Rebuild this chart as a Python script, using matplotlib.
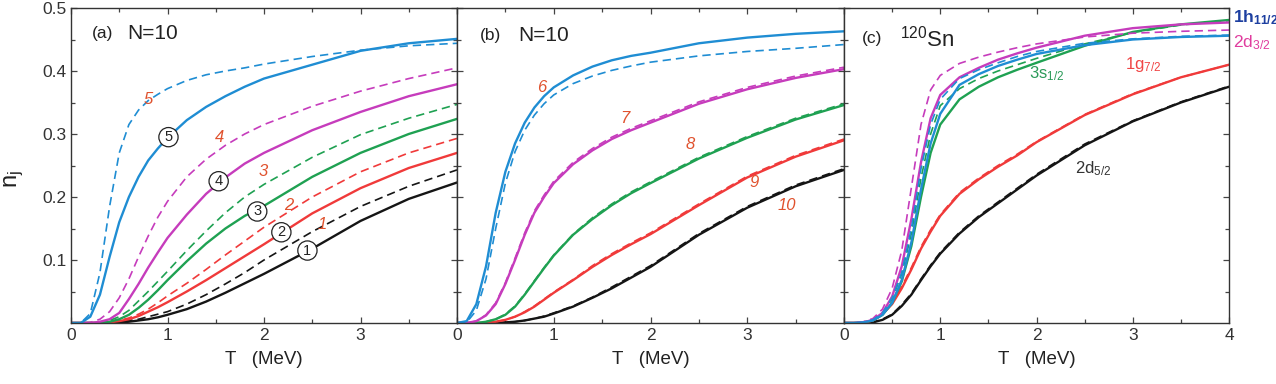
import matplotlib
matplotlib.use("Agg")
import matplotlib.pyplot as plt
from matplotlib.ticker import MultipleLocator, FixedLocator

plt.rcParams['font.family'] = ['Liberation Sans', 'DejaVu Sans']
plt.rcParams['mathtext.fontset'] = 'custom'
plt.rcParams['mathtext.rm'] = 'Liberation Sans'
plt.rcParams['mathtext.it'] = 'Liberation Sans:italic'
plt.rcParams['mathtext.bf'] = 'Liberation Sans:bold'

# ---------------- data ----------------
T = [0, 0.1, 0.2, 0.3, 0.4, 0.5, 0.6, 0.7, 0.8, 0.9, 1.0, 1.2, 1.4, 1.6, 1.8, 2.0, 2.5, 3.0, 3.5, 4.0]

# panel (a)  N=10, levels 1..5 (solid and dashed)
a5_solid = [0, 0.0, 0.010, 0.045, 0.105, 0.160, 0.200, 0.232, 0.258, 0.277, 0.294, 0.322, 0.343, 0.360, 0.375, 0.388, 0.410, 0.432, 0.444, 0.451]
a5_dash  = [0, 0.0, 0.015, 0.080, 0.185, 0.270, 0.315, 0.338, 0.353, 0.363, 0.372, 0.385, 0.394, 0.400, 0.405, 0.411, 0.423, 0.433, 0.440, 0.444]
a4_solid = [0, 0.0, 0.000, 0.002, 0.006, 0.016, 0.038, 0.062, 0.088, 0.112, 0.135, 0.172, 0.205, 0.231, 0.253, 0.270, 0.306, 0.335, 0.360, 0.379]
a4_dash  = [0, 0.0, 0.001, 0.006, 0.018, 0.040, 0.070, 0.105, 0.138, 0.168, 0.193, 0.232, 0.260, 0.282, 0.300, 0.315, 0.344, 0.368, 0.388, 0.405]
a3_solid = [0, 0.0, 0.000, 0.000, 0.002, 0.006, 0.013, 0.024, 0.037, 0.052, 0.068, 0.098, 0.126, 0.150, 0.170, 0.186, 0.232, 0.270, 0.300, 0.324]
a3_dash  = [0, 0.0, 0.000, 0.001, 0.004, 0.010, 0.020, 0.035, 0.050, 0.066, 0.082, 0.115, 0.146, 0.175, 0.200, 0.220, 0.263, 0.299, 0.325, 0.347]
a2_solid = [0, 0.0, 0.000, 0.000, 0.001, 0.003, 0.006, 0.011, 0.018, 0.025, 0.033, 0.050, 0.068, 0.087, 0.106, 0.125, 0.174, 0.214, 0.246, 0.270]
a2_dash  = [0, 0.0, 0.000, 0.000, 0.001, 0.004, 0.008, 0.014, 0.022, 0.032, 0.043, 0.063, 0.085, 0.108, 0.130, 0.152, 0.200, 0.240, 0.270, 0.293]
a1_solid = [0, 0.0, 0.000, 0.000, 0.000, 0.001, 0.002, 0.004, 0.006, 0.009, 0.013, 0.022, 0.034, 0.048, 0.063, 0.078, 0.118, 0.162, 0.197, 0.223]
a1_dash  = [0, 0.0, 0.000, 0.000, 0.001, 0.002, 0.004, 0.006, 0.010, 0.014, 0.018, 0.030, 0.045, 0.062, 0.080, 0.100, 0.145, 0.185, 0.217, 0.243]

# panel (b)  N=10, levels 6..10
b6_solid = [0, 0.003, 0.030, 0.090, 0.175, 0.240, 0.285, 0.318, 0.342, 0.360, 0.374, 0.393, 0.407, 0.417, 0.424, 0.429, 0.444, 0.453, 0.459, 0.463]
b6_dash  = [0, 0.001, 0.020, 0.070, 0.150, 0.222, 0.272, 0.306, 0.330, 0.348, 0.362, 0.380, 0.392, 0.401, 0.408, 0.414, 0.424, 0.431, 0.436, 0.442]
b7_solid = [0, 0.000, 0.003, 0.012, 0.030, 0.062, 0.100, 0.140, 0.175, 0.200, 0.222, 0.252, 0.274, 0.292, 0.306, 0.318, 0.348, 0.371, 0.389, 0.403]
b7_dash  = [0, 0.000, 0.003, 0.013, 0.032, 0.064, 0.103, 0.143, 0.178, 0.203, 0.225, 0.255, 0.277, 0.295, 0.309, 0.321, 0.351, 0.374, 0.392, 0.406]
b8_solid = [0, 0.000, 0.000, 0.002, 0.006, 0.013, 0.026, 0.045, 0.066, 0.087, 0.107, 0.140, 0.165, 0.187, 0.206, 0.222, 0.261, 0.294, 0.323, 0.346]
b8_dash  = [0, 0.000, 0.000, 0.002, 0.006, 0.014, 0.027, 0.046, 0.067, 0.088, 0.108, 0.141, 0.167, 0.189, 0.208, 0.224, 0.263, 0.296, 0.325, 0.348]
b9_solid = [0, 0.000, 0.000, 0.000, 0.002, 0.005, 0.010, 0.017, 0.026, 0.037, 0.048, 0.068, 0.089, 0.108, 0.125, 0.141, 0.187, 0.231, 0.264, 0.290]
b9_dash  = [0, 0.000, 0.000, 0.000, 0.002, 0.005, 0.010, 0.018, 0.027, 0.038, 0.049, 0.069, 0.091, 0.110, 0.127, 0.143, 0.189, 0.233, 0.266, 0.292]
b10_solid = [0, 0.000, 0.000, 0.000, 0.000, 0.001, 0.002, 0.004, 0.007, 0.010, 0.015, 0.026, 0.040, 0.055, 0.072, 0.089, 0.140, 0.183, 0.217, 0.243]
b10_dash  = [0, 0.000, 0.000, 0.000, 0.000, 0.001, 0.002, 0.004, 0.007, 0.011, 0.016, 0.027, 0.041, 0.057, 0.074, 0.091, 0.142, 0.185, 0.219, 0.245]

# panel (c)  120Sn orbitals
c_1h_solid = [0, 0, 0.001, 0.004, 0.013, 0.032, 0.068, 0.128, 0.212, 0.285, 0.332, 0.378, 0.395, 0.408, 0.418, 0.427, 0.441, 0.450, 0.454, 0.456]
c_1h_dash  = [0, 0, 0.001, 0.005, 0.016, 0.040, 0.080, 0.150, 0.245, 0.315, 0.355, 0.388, 0.402, 0.413, 0.423, 0.431, 0.444, 0.451, 0.455, 0.457]
c_2d3_solid = [0, 0, 0.001, 0.005, 0.016, 0.042, 0.090, 0.165, 0.255, 0.325, 0.362, 0.390, 0.405, 0.418, 0.428, 0.437, 0.456, 0.468, 0.474, 0.477]
c_2d3_dash  = [0, 0, 0.002, 0.007, 0.022, 0.055, 0.115, 0.215, 0.315, 0.370, 0.393, 0.412, 0.422, 0.430, 0.437, 0.443, 0.454, 0.460, 0.463, 0.465]
c_3s_solid = [0, 0, 0.001, 0.004, 0.013, 0.032, 0.066, 0.122, 0.200, 0.270, 0.315, 0.355, 0.375, 0.390, 0.402, 0.413, 0.440, 0.462, 0.474, 0.481]
c_3s_dash  = [0, 0, 0.001, 0.005, 0.016, 0.038, 0.078, 0.142, 0.230, 0.300, 0.345, 0.372, 0.388, 0.400, 0.410, 0.420, 0.443, 0.461, 0.473, 0.480]
c_1g_solid = [0, 0, 0.000, 0.004, 0.014, 0.030, 0.055, 0.085, 0.118, 0.145, 0.170, 0.205, 0.228, 0.248, 0.266, 0.287, 0.330, 0.363, 0.390, 0.410]
c_1g_dash  = [0, 0, 0.000, 0.004, 0.015, 0.032, 0.058, 0.088, 0.121, 0.148, 0.172, 0.207, 0.230, 0.250, 0.268, 0.288, 0.331, 0.364, 0.390, 0.410]
c_2d5_solid = [0, 0, 0.000, 0.001, 0.005, 0.013, 0.027, 0.045, 0.068, 0.090, 0.110, 0.142, 0.168, 0.190, 0.212, 0.234, 0.282, 0.320, 0.350, 0.375]
c_2d5_dash  = [0, 0, 0.000, 0.001, 0.006, 0.014, 0.029, 0.047, 0.070, 0.092, 0.112, 0.144, 0.170, 0.192, 0.214, 0.236, 0.284, 0.321, 0.351, 0.376]

# labels
a_labels = ['5', '4', '3', '2', '1']
b_labels = ['6', '7', '8', '9', '10']
c_orbitals = ['1h$_{11/2}$', '2d$_{3/2}$', '3s$_{1/2}$', '1g$_{7/2}$', '2d$_{5/2}$']
x_ticklabels_ab = ['0', '1', '2', '3']
x_ticklabels_c = ['0', '1', '2', '3', '4']
y_ticklabels = ['0.1', '0.2', '0.3', '0.4', '0.5']

# ---------------- style ----------------
BLUE = '#1f8dd3'
MAG = '#c63cbc'
GREEN = '#1fa152'
RED = '#f03a3a'
BLACK = '#151515'
LAB = '#e0522e'
DASH = (0, (5, 3))
LWS = 1.7
LWD = 1.2

fig = plt.figure(figsize=(12.76, 3.84), dpi=100)
W, H = 1276, 384
def pos(l, r):
    return [l / W, 1 - 323 / H, (r - l) / W, (323 - 8) / H]

axa = fig.add_axes(pos(71, 457))
axb = fig.add_axes(pos(457, 844))
axc = fig.add_axes(pos(844, 1229))

for ax in (axa, axb, axc):
    ax.set_xlim(0, 4)
    ax.set_ylim(0, 0.5)
    ax.xaxis.set_major_locator(FixedLocator([0, 1, 2, 3, 4]))
    ax.xaxis.set_minor_locator(MultipleLocator(0.5))
    ax.yaxis.set_major_locator(FixedLocator([0.1, 0.2, 0.3, 0.4, 0.5]))
    ax.yaxis.set_minor_locator(FixedLocator([0.05, 0.15, 0.25, 0.35, 0.45]))
    ax.tick_params(which='both', direction='in', top=True, right=True, colors='#444444',
                   labelcolor='#333333', labelsize=12.5, width=0.9)
    ax.tick_params(which='major', length=4.5)
    ax.tick_params(which='minor', length=3)
    for s in ax.spines.values():
        s.set_color('#333333')
        s.set_linewidth(1.0)
    ax.set_xlabel('T   (MeV)', fontsize=13.5, color='#222222', labelpad=6)

axa.set_xticks([0, 1, 2, 3, 4])
axa.set_xticklabels(x_ticklabels_ab + [''])
axb.set_xticks([0, 1, 2, 3, 4])
axb.set_xticklabels(x_ticklabels_ab + [''])
axc.set_xticks([0, 1, 2, 3, 4])
axc.set_xticklabels(x_ticklabels_c)
axa.set_yticks([0.1, 0.2, 0.3, 0.4, 0.5])
axa.set_yticklabels(y_ticklabels)
axb.set_yticklabels([])
axc.set_yticklabels([])

# panel a
pairs_a = [(a1_solid, a1_dash, BLACK), (a2_solid, a2_dash, RED), (a3_solid, a3_dash, GREEN),
           (a4_solid, a4_dash, MAG), (a5_solid, a5_dash, BLUE)]
for s, d, c in pairs_a:
    axa.plot(T, d, color=c, lw=LWD, linestyle=DASH)
    axa.plot(T, s, color=c, lw=LWS)

# panel b
pairs_b = [(b10_solid, b10_dash, BLACK), (b9_solid, b9_dash, RED), (b8_solid, b8_dash, GREEN),
           (b7_solid, b7_dash, MAG), (b6_solid, b6_dash, BLUE)]
for s, d, c in pairs_b:
    axb.plot(T, s, color=c, lw=LWS)
    axb.plot(T, d, color=c, lw=LWD, linestyle=DASH)

# panel c
pairs_c = [(c_2d5_solid, c_2d5_dash, BLACK), (c_1g_solid, c_1g_dash, RED),
           (c_3s_solid, c_3s_dash, GREEN), (c_2d3_solid, c_2d3_dash, MAG),
           (c_1h_solid, c_1h_dash, BLUE)]
for s, d, c in pairs_c:
    axc.plot(T, s, color=c, lw=LWS)
    axc.plot(T, d, color=c, lw=LWD, linestyle=DASH)

# titles
axa.text(0.22, 0.46, '(a)', fontsize=12.5, va='center', color='#222222')
axa.text(0.58, 0.46, 'N=10', fontsize=15, va='center', color='#222222')
axb.text(0.24, 0.457, '(b)', fontsize=12.5, va='center', color='#222222')
axb.text(0.63, 0.457, 'N=10', fontsize=15, va='center', color='#222222')
axc.text(0.19, 0.452, '(c)', fontsize=12.5, va='center', color='#222222')
axc.text(0.58, 0.452, r'$\mathregular{^{120}}$Sn', fontsize=16, va='center', color='#222222')

# level number labels (a)
a_lab_pos = [(0.80, 0.354), (1.54, 0.295), (1.99, 0.240), (2.26, 0.187), (2.60, 0.156)]
for lab, (x, y) in zip(a_labels, a_lab_pos):
    axa.text(x, y, lab, color=LAB, fontsize=12, style='italic', ha='center', va='center')
circ_pos = [(1.01, 0.295), (1.53, 0.225), (1.93, 0.177), (2.18, 0.144), (2.45, 0.115)]
for lab, (x, y) in zip(a_labels, circ_pos):
    axa.text(x, y, lab, color='#222222', fontsize=10.5, ha='center', va='center',
             bbox=dict(boxstyle='circle,pad=0.18', fc='white', ec='#222222', lw=0.9))

b_lab_pos = [(0.88, 0.374), (1.74, 0.325), (2.41, 0.283), (3.07, 0.223), (3.41, 0.187)]
for lab, (x, y) in zip(b_labels, b_lab_pos):
    axb.text(x, y, lab, color=LAB, fontsize=12, style='italic', ha='center', va='center')

# orbital labels (c)
axc.text(4.04, 0.484, r'$\mathbf{1h_{11/2}}$', color='#1d3fa0', fontsize=12.5, va='center',
         ha='left', clip_on=False)
axc.text(4.04, 0.445, c_orbitals[1], color='#e03c9e', fontsize=12.5, va='center',
         ha='left', clip_on=False)
axc.text(1.92, 0.395, c_orbitals[2], color='#2a9a58', fontsize=12, va='center', ha='left')
axc.text(2.92, 0.41, c_orbitals[3], color='#f04545', fontsize=12, va='center', ha='left')
axc.text(2.40, 0.245, c_orbitals[4], color='#333333', fontsize=12, va='center', ha='left')

fig.text(0.002, 0.535, r'$\mathregular{n_j}$', rotation=90, fontsize=17, ha='left',
         va='center', color='#222222')

fig.savefig('out.png', dpi=100)
